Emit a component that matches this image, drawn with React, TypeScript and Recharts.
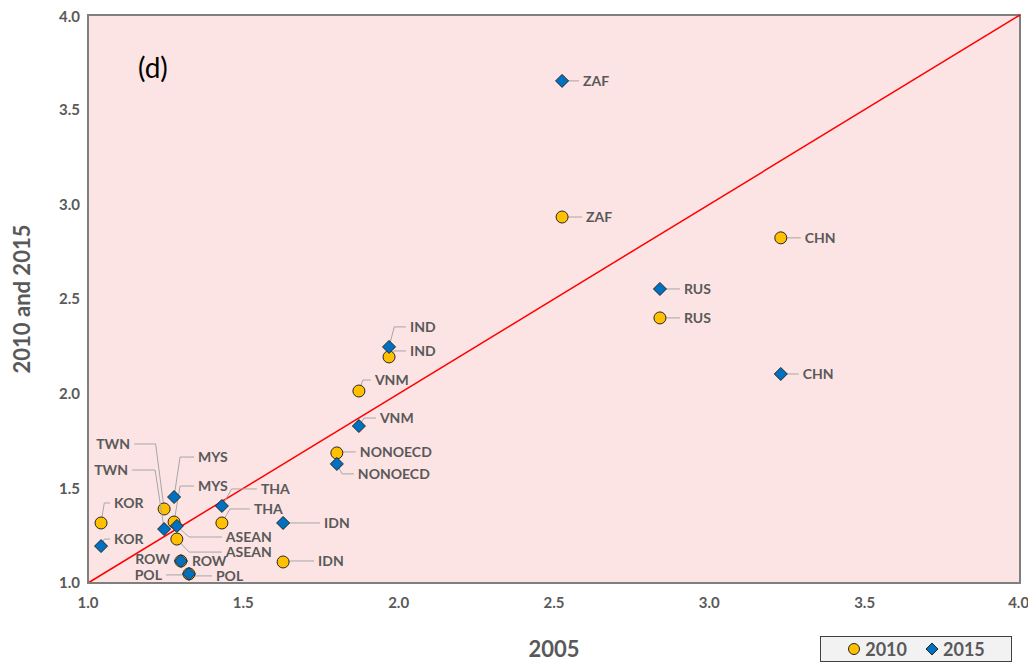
import React from "react";
import { ScatterChart, Scatter, XAxis, YAxis, CartesianGrid, ReferenceLine, ReferenceArea } from "recharts";

const names = ["KOR","TWN","MYS","ASEAN","ROW","POL","THA","IDN","NONOECD","VNM","IND","ZAF","RUS","CHN"];
const x2005 = [1.042,1.245,1.277,1.286,1.299,1.325,1.431,1.628,1.801,1.872,1.969,2.526,2.841,3.230];
const y2010 = [1.317,1.391,1.322,1.232,1.116,1.048,1.317,1.111,1.687,2.014,2.194,2.933,2.400,2.823];
const y2015 = [1.195,1.285,1.454,1.301,1.116,1.048,1.407,1.317,1.629,1.829,2.247,3.652,2.553,2.104];
const xTicks = [1.0,1.5,2.0,2.5,3.0,3.5,4.0];
const yTicks = [1.0,1.5,2.0,2.5,3.0,3.5,4.0];

// label offsets [dx, dy, anchor]
const off10: Record<string, [number, number, string]> = {
  KOR:[13,-20,"start"],TWN:[-34,-65,"end"],MYS:[24,-36,"start"],ASEAN:[49,13,"start"],ROW:[11,0,"start"],
  POL:[27,2,"start"],THA:[32,-14,"start"],IDN:[35,-1,"start"],NONOECD:[23,-1,"start"],VNM:[16,-11,"start"],
  IND:[21,-6,"start"],ZAF:[24,0,"start"],RUS:[24,0,"start"],CHN:[24,0,"start"],
};
const off15: Record<string, [number, number, string]> = {
  KOR:[13,-7,"start"],TWN:[-36,-59,"end"],MYS:[24,-40,"start"],ASEAN:[49,11,"start"],ROW:[-11,-2,"end"],
  POL:[-27,1,"end"],THA:[39,-17,"start"],IDN:[41,0,"start"],NONOECD:[21,10,"start"],VNM:[21,-8,"start"],
  IND:[21,-20,"start"],ZAF:[21,0,"start"],RUS:[24,0,"start"],CHN:[22,0,"start"],
};

const d10 = names.map((n, i) => ({ name: n, x: x2005[i], y: y2010[i] }));
const d15 = names.map((n, i) => ({ name: n, x: x2005[i], y: y2015[i] }));
const FONT = "Lato, 'Open Sans', sans-serif";

const makeShape = (kind: "c" | "d", offs: Record<string, [number, number, string]>) => (p: any) => {
  const cx = p.cx, cy = p.cy;
  const [dx, dy, anchor] = offs[p.payload.name];
  const lx = cx + dx, ly = cy + dy;
  const lineEnd = anchor === "end" ? lx + 4 : lx - 4;
  return (
    <g>
      <polyline points={`${cx},${cy} ${cx + (dy !== 0 ? dx * 0.25 : 0)},${ly} ${lineEnd},${ly}`} fill="none" stroke="#a6a6a6" strokeWidth={1} />
      {kind === "c" ? (
        <circle cx={cx} cy={cy} r={6} fill="#ffc000" stroke="#262626" strokeWidth={1} />
      ) : (
        <polygon points={`${cx},${cy - 6.5} ${cx + 6.5},${cy} ${cx},${cy + 6.5} ${cx - 6.5},${cy}`} fill="#0070c0" stroke="#262626" strokeWidth={1} />
      )}
      <text x={lx} y={ly} dy={5} textAnchor={anchor as any} fontFamily={FONT} fontWeight="bold" fontSize={14} fill="#595959">{p.payload.name}</text>
    </g>
  );
};

export default function App() {
  const tick = { fontFamily: FONT, fontWeight: "bold" as any, fontSize: 15, fill: "#595959" };
  return (
    <div style={{ width: 1020, height: 658, position: "relative" }}>
      <ScatterChart width={1020} height={658} margin={{ top: 7, right: 8, bottom: 53, left: 30 }}>
        <ReferenceArea x1={1} x2={4} y1={1} y2={4} fill="#fde4e4" fillOpacity={1} stroke="none" />
        <CartesianGrid stroke="#d9d9d9" />
        <XAxis type="number" dataKey="x" domain={[1, 4]} ticks={xTicks} tickFormatter={(v) => v.toFixed(1)} tick={tick} tickLine={false} axisLine={{ stroke: "#7f7f7f", strokeWidth: 2 }} tickMargin={8}
          label={{ value: "2005", position: "insideBottom", offset: -44, style: { fontFamily: FONT, fontWeight: "bold", fontSize: 22, fill: "#595959" } }} />
        <YAxis type="number" dataKey="y" domain={[1, 4]} ticks={yTicks} tickFormatter={(v) => v.toFixed(1)} tick={tick} tickLine={false} axisLine={{ stroke: "#7f7f7f", strokeWidth: 2 }} width={50}
          label={{ value: "2010 and 2015", angle: -90, position: "insideLeft", offset: -16, style: { textAnchor: "middle", fontFamily: FONT, fontWeight: "bold", fontSize: 22, fill: "#595959" } }} />
        <ReferenceArea x1={1} x2={4} y1={1} y2={4} fill="none" stroke="#7f7f7f" strokeWidth={2} />
        <ReferenceLine segment={[{ x: 1, y: 1 }, { x: 4, y: 4 }]} stroke="#ff0000" strokeWidth={1.5} />
        <Scatter data={d10} isAnimationActive={false} shape={makeShape("c", off10)} />
        <Scatter data={d15} isAnimationActive={false} shape={makeShape("d", off15)} />
      </ScatterChart>
      <div style={{ position: "absolute", left: 130, top: 42, fontFamily: FONT, fontSize: 28, color: "#000" }}>(d)</div>
      <div style={{ position: "absolute", left: 812, top: 628, border: "1px solid #404040", background: "#f2f2f2", width: 190, height: 24, display: "flex", alignItems: "center", justifyContent: "center", gap: 18, fontFamily: FONT, fontWeight: "bold", fontSize: 18, color: "#595959" }}>
        <span style={{ display: "flex", alignItems: "center", gap: 4 }}>
          <svg width={14} height={14}><circle cx={7} cy={7} r={5.5} fill="#ffc000" stroke="#262626" /></svg>2010
        </span>
        <span style={{ display: "flex", alignItems: "center", gap: 4 }}>
          <svg width={14} height={14}><polygon points="7,1 13,7 7,13 1,7" fill="#0070c0" stroke="#262626" /></svg>2015
        </span>
      </div>
    </div>
  );
}
